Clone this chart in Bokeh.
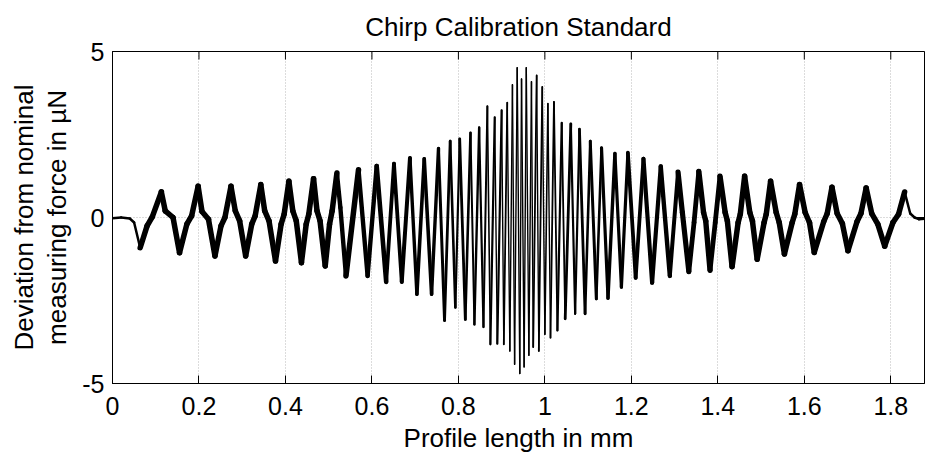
import numpy as np
from bokeh.plotting import figure
from bokeh.models import FixedTicker, Range1d, ColumnDataSource
from bokeh.embed import file_html
from bokeh.resources import INLINE

# ---------------- data ----------------
title_text = "Chirp Calibration Standard"
x_label = "Profile length in mm"
y_label_1 = "Deviation from nominal"
y_label_2 = "measuring force in µN"

x_ticks = [0, 0.2, 0.4, 0.6, 0.8, 1.0, 1.2, 1.4, 1.6, 1.8]
x_tick_labels = ["0", "0.2", "0.4", "0.6", "0.8", "1", "1.2", "1.4", "1.6", "1.8"]
y_ticks = [-5, 0, 5]
y_tick_labels = ["-5", "0", "5"]
x_limits = [0, 1.878]
y_limits = [-5, 5]

profile_mm = [
    0.000, 0.020, 0.040, 0.050, 0.064, 0.080, 0.092, 0.113, 0.122, 0.140,
    0.155, 0.172, 0.183, 0.198, 0.207, 0.222, 0.237, 0.251, 0.260, 0.274,
    0.284, 0.294, 0.308, 0.322, 0.330, 0.343, 0.352, 0.362, 0.377, 0.390,
    0.397, 0.408, 0.417, 0.425, 0.437, 0.448, 0.454, 0.465, 0.473, 0.480,
    0.492, 0.502, 0.508, 0.519, 0.527, 0.540, 0.569, 0.590, 0.611, 0.633,
    0.651, 0.669, 0.688, 0.704, 0.721, 0.738, 0.754, 0.768, 0.781, 0.793,
    0.803, 0.816, 0.828, 0.837, 0.848, 0.858, 0.867, 0.874, 0.884, 0.890,
    0.900, 0.905, 0.913, 0.919, 0.925, 0.930, 0.936, 0.942, 0.946, 0.952,
    0.957, 0.963, 0.969, 0.973, 0.981, 0.986, 0.994, 1.000, 1.007, 1.013,
    1.021, 1.029, 1.039, 1.047, 1.060, 1.070, 1.080, 1.093, 1.105, 1.119,
    1.131, 1.146, 1.162, 1.177, 1.192, 1.210, 1.228, 1.248, 1.268, 1.289,
    1.308, 1.318, 1.333, 1.345, 1.356, 1.367, 1.372, 1.382, 1.394, 1.405,
    1.417, 1.422, 1.433, 1.447, 1.452, 1.462, 1.474, 1.480, 1.491, 1.507,
    1.512, 1.522, 1.535, 1.542, 1.554, 1.572, 1.578, 1.589, 1.602, 1.612,
    1.623, 1.645, 1.653, 1.664, 1.676, 1.688, 1.701, 1.722, 1.731, 1.743,
    1.756, 1.770, 1.786, 1.805, 1.818, 1.832, 1.845, 1.855, 1.865, 1.878,
]
deviation_uN = [
    -0.02, 0.00, -0.03, -0.15, -0.91, -0.25, 0.02, 0.77, 0.20, 0.00,
    -1.06, -0.20, 0.05, 0.94, 0.18, -0.05, -1.16, -0.25, 0.00, 0.94,
    0.20, -0.10, -1.16, -0.20, 0.05, 0.99, 0.20, -0.10, -1.31, -0.20,
    0.10, 1.09, 0.20, -0.10, -1.36, -0.20, 0.10, 1.17, 0.20, -0.10,
    -1.46, -0.20, 0.20, 1.34, 0.30, -1.76, 1.44, -1.76, 1.55, -1.94,
    1.62, -1.94, 1.79, -2.31, 1.77, -2.31, 2.08, -3.10, 2.30, -2.71,
    2.37, -3.07, 2.55, -3.22, 2.71, -3.30, 3.35, -3.82, 3.02, -3.80,
    3.23, -3.82, 3.46, -4.02, 4.00, -4.42, 4.51, -4.70, 4.17, -4.50,
    4.51, -4.15, 4.09, -3.90, 4.28, -4.02, 3.93, -3.52, 3.43, -3.62,
    3.48, -3.40, 2.85, -3.05, 2.82, -2.90, 2.66, -2.90, 2.30, -2.45,
    2.10, -2.43, 1.93, -2.10, 1.95, -1.82, 1.77, -1.96, 1.54, -1.76,
    1.37, 0.15, -1.63, -0.15, 1.39, 0.15, -0.10, -1.59, -0.15, 1.24,
    0.15, -0.10, -1.48, -0.15, 0.10, 1.24, 0.15, -0.10, -1.26, -0.15,
    0.10, 1.09, 0.15, -0.15, -1.10, -0.15, 0.10, 0.99, 0.15, -0.15,
    -1.05, -0.12, 0.12, 0.91, 0.12, -0.18, -1.00, -0.12, 0.12, 0.89,
    0.12, -0.20, -0.86, -0.15, 0.10, 0.77, 0.12, 0.00, -0.05, -0.04,
]

# ---------------- styling ----------------
FONT = "Liberation Sans"
TICK_FS = "25px"
LABEL_FS = "26px"
TICK_LEN = 8

xs = np.asarray(profile_mm, dtype=float)
ys = np.asarray(deviation_uN, dtype=float)

# line "ink" width: thicker where the oscillation is slow (noisy band look)
ext_x = xs[np.abs(ys) > 0.5]
seg_x, seg_y, seg_w = [], [], []
for i in range(len(xs) - 1):
    xm = 0.5 * (xs[i] + xs[i + 1])
    k = int(np.searchsorted(ext_x, xm))
    if k == 0 or k == len(ext_x):
        lw = 2.5
    else:
        gap = ext_x[k] - ext_x[k - 1]
        lw = float(np.clip(1.4 + (gap - 0.006) * 200.0, 1.4, 5.5))
    seg_x.append([xs[i], xs[i + 1]])
    seg_y.append([ys[i], ys[i + 1]])
    seg_w.append(lw)

src = ColumnDataSource(dict(xs=seg_x, ys=seg_y, w=seg_w))

p = figure(
    width=925, height=459,
    x_range=Range1d(*x_limits), y_range=Range1d(*y_limits),
    output_backend="svg", toolbar_location=None,
    min_border_left=112, min_border_right=1,
    min_border_top=49, min_border_bottom=76,
    background_fill_color="white", border_fill_color="white",
)
p.outline_line_color = "black"
p.outline_line_width = 1

p.title.text = title_text
p.title.align = "center"
p.title.vertical_align = "bottom"
p.title.text_font = FONT
p.title.text_font_size = LABEL_FS
p.title.text_font_style = "normal"
p.title.text_color = "black"
p.title.standoff = 19

p.xgrid.ticker = FixedTicker(ticks=x_ticks)
p.ygrid.ticker = FixedTicker(ticks=y_ticks)
for g in (p.xgrid[0], p.ygrid[0]):
    g.grid_line_color = "#b8b8b8"
    g.grid_line_dash = "1 2"
    g.grid_line_width = 1

p.multi_line(xs="xs", ys="ys", line_width="w", line_color="black",
             line_cap="round", line_join="round", source=src)

# inward ticks on the top and right frame edges (half of each dash is clipped)
p.scatter(x=x_ticks, y=[y_limits[1]] * len(x_ticks), marker="dash", angle=np.pi / 2,
          size=2 * TICK_LEN, line_color="black", line_width=1)
p.scatter(x=[x_limits[1]] * len(y_ticks), y=y_ticks, marker="dash", angle=0.0,
          size=2 * TICK_LEN, line_color="black", line_width=1)

for ax in p.xaxis:
    ax.ticker = FixedTicker(ticks=x_ticks)
    ax.major_label_overrides = {t: s for t, s in zip(x_ticks, x_tick_labels)}
    ax.axis_label = x_label
    ax.major_label_standoff = 13
    ax.axis_label_standoff = 5
for ax in p.yaxis:
    ax.ticker = FixedTicker(ticks=y_ticks)
    ax.major_label_overrides = {t: s for t, s in zip(y_ticks, y_tick_labels)}
    ax.major_label_standoff = 8
    ax.axis_label = y_label_1 + "\n" + y_label_2
    ax.axis_label_standoff = 7

for ax in list(p.xaxis) + list(p.yaxis):
    ax.major_tick_in = TICK_LEN
    ax.major_tick_out = 0
    ax.minor_tick_line_color = None
    ax.axis_line_color = "black"
    ax.major_tick_line_color = "black"
    ax.major_label_text_font = FONT
    ax.major_label_text_font_size = TICK_FS
    ax.major_label_text_color = "black"
    ax.axis_label_text_font = FONT
    ax.axis_label_text_font_size = LABEL_FS
    ax.axis_label_text_font_style = "normal"
    ax.axis_label_text_color = "black"
    ax.axis_label_text_line_height = 1.12

open("out.html", "w").write(file_html(p, INLINE))
